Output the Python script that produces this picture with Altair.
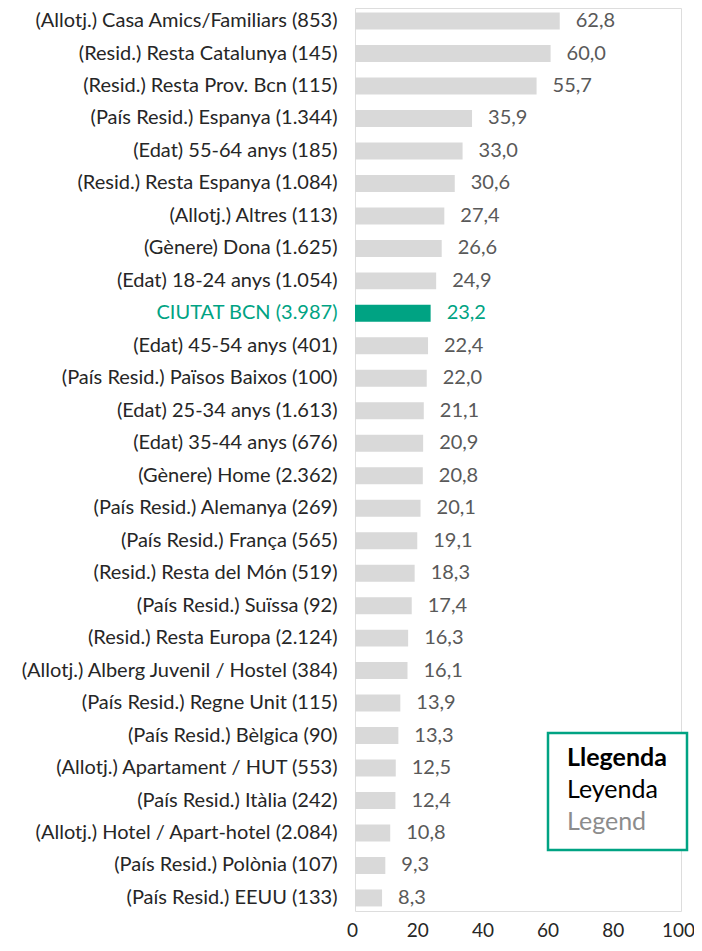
import altair as alt
import pandas as pd

categories = [
    "(Allotj.) Casa Amics/Familiars (853)",
    "(Resid.) Resta Catalunya (145)",
    "(Resid.) Resta Prov. Bcn (115)",
    "(País Resid.) Espanya (1.344)",
    "(Edat) 55-64 anys (185)",
    "(Resid.) Resta Espanya (1.084)",
    "(Allotj.) Altres (113)",
    "(Gènere) Dona (1.625)",
    "(Edat) 18-24 anys (1.054)",
    "CIUTAT BCN (3.987)",
    "(Edat) 45-54 anys (401)",
    "(País Resid.) Països Baixos (100)",
    "(Edat) 25-34 anys  (1.613)",
    "(Edat) 35-44 anys (676)",
    "(Gènere) Home (2.362)",
    "(País Resid.) Alemanya (269)",
    "(País Resid.) França (565)",
    "(Resid.) Resta del Món (519)",
    "(País Resid.) Suïssa (92)",
    "(Resid.) Resta Europa (2.124)",
    "(Allotj.) Alberg Juvenil / Hostel (384)",
    "(País Resid.) Regne Unit (115)",
    "(País Resid.) Bèlgica (90)",
    "(Allotj.) Apartament / HUT (553)",
    "(País Resid.) Itàlia (242)",
    "(Allotj.) Hotel / Apart-hotel (2.084)",
    "(País Resid.) Polònia (107)",
    "(País Resid.) EEUU (133)",
]
values = [62.8, 60.0, 55.7, 35.9, 33.0, 30.6, 27.4, 26.6, 24.9, 23.2, 22.4, 22.0,
          21.1, 20.9, 20.8, 20.1, 19.1, 18.3, 17.4, 16.3, 16.1, 13.9, 13.3, 12.5,
          12.4, 10.8, 9.3, 8.3]
highlight = "CIUTAT BCN (3.987)"
x_ticks = [0, 20, 40, 60, 80, 100]
legend_lines = ["Llegenda", "Leyenda", "Legend"]

TEAL = "#00A383"
FONT = "Lato"
FS = 20

df = pd.DataFrame({"cat": categories, "val": values})
df["label"] = df["val"].map(lambda v: f"{v:.1f}".replace(".", ","))
df["hl"] = df["cat"] == highlight

y_enc = alt.Y(
    "cat:N", sort=categories, title=None,
    scale=alt.Scale(paddingInner=0.477, paddingOuter=0.14),
    axis=alt.Axis(
        domain=False, ticks=False, labelPadding=18, labelFontSize=FS, labelFont=FONT,
        labelLimit=400,
        labelColor=alt.expr(f"datum.value == '{highlight}' ? '{TEAL}' : '#262626'"),
    ),
)
x_enc = alt.X(
    "val:Q", title=None,
    scale=alt.Scale(domain=[0, 100], nice=False),
    axis=alt.Axis(values=x_ticks, domain=False, ticks=False, grid=False,
                  labelPadding=10, labelFontSize=19, labelFont=FONT, labelColor="#262626",
                  labelFlush=False, labelOffset=-3),
)

bars = alt.Chart(df).mark_bar().encode(
    x=x_enc, y=y_enc,
    color=alt.condition("datum.hl", alt.value(TEAL), alt.value("#D9D9D9")),
)
texts = alt.Chart(df).mark_text(align="left", dx=16, fontSize=FS, font=FONT).encode(
    x="val:Q", y=alt.Y("cat:N", sort=categories),
    text="label:N",
    color=alt.condition("datum.hl", alt.value(TEAL), alt.value("#595959")),
)

box = alt.Chart(pd.DataFrame({"k": [0]})).mark_rect(
    fill="white", stroke=TEAL, strokeWidth=2.5
).encode(x=alt.value(193), x2=alt.value(332), y=alt.value(725), y2=alt.value(842))

leg_df = pd.DataFrame({"t": legend_lines})
leg1 = alt.Chart(leg_df.iloc[[0]]).mark_text(
    align="left", baseline="middle", fontSize=25, font=FONT, fontWeight="bold", color="#000000"
).encode(x=alt.value(212), y=alt.value(750), text="t:N")
leg2 = alt.Chart(leg_df.iloc[[1]]).mark_text(
    align="left", baseline="middle", fontSize=25, font=FONT, color="#000000"
).encode(x=alt.value(212), y=alt.value(782), text="t:N")
leg3 = alt.Chart(leg_df.iloc[[2]]).mark_text(
    align="left", baseline="middle", fontSize=25, font=FONT, color="#8C8C8C"
).encode(x=alt.value(212), y=alt.value(814), text="t:N")

chart = alt.layer(bars, texts, box, leg1, leg2, leg3).properties(
    width=326, height=903,
    autosize=alt.AutoSizeParams(type="none"),
    padding={"left": 347, "top": 0, "right": 13, "bottom": 28},
).configure_view(strokeWidth=0, stroke="transparent").configure(background="white")

chart.save("out.html", embed_options={"renderer": "svg", "actions": False})
